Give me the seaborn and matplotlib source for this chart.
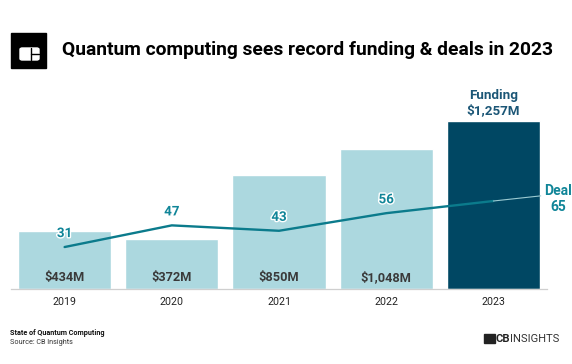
import numpy as np
import pandas as pd
import matplotlib
matplotlib.use('Agg')
import matplotlib.pyplot as plt
import matplotlib.patheffects as pe
from matplotlib.patches import Rectangle, FancyBboxPatch
import seaborn as sns

# Chart data
years = ['2019', '2020', '2021', '2022', '2023']
funding = [434, 372, 850, 1048, 1257]          # $M
funding_labels = ['$434M', '$372M', '$850M', '$1,048M', '$1,257M']
deals = [31, 47, 43, 56, 65]

light_bar = '#acd8df'
dark_bar = '#004763'
line_col = '#0b7b8c'
deal_txt = '#108598'
fund_txt = '#1b5676'
val_txt = '#3a3a3a'

sns.set_theme(style='white')
plt.rcParams['font.family'] = ['Roboto', 'DejaVu Sans']

W, H = 572, 364
fig = plt.figure(figsize=(W / 100, H / 100), dpi=100)

# main axes (pixel layout -> figure fractions)
ax = fig.add_axes([11 / W, (H - 289) / H, 536 / W, 189 / H])
df = pd.DataFrame({'year': years, 'funding': funding})
palette = {y: (dark_bar if y == years[-1] else light_bar) for y in years}
sns.barplot(data=df, x='year', y='funding', hue='year', palette=palette,
            legend=False, width=0.87, saturation=1, ax=ax)
ax.set_xlim(-0.5, 4.5)
ax.set_ylim(0, 1257 * 189 / 168)
ax.set_yticks([])
ax.set_xlabel('')
ax.set_ylabel('')
for s in ['top', 'left', 'right']:
    ax.spines[s].set_visible(False)
ax.spines['bottom'].set_color('#cfcfcf')
ax.spines['bottom'].set_linewidth(0.9)
ax.tick_params(axis='x', length=0, pad=6, labelsize=7.7, labelcolor='#222222')
ax.set_facecolor('none')

# funding value labels inside bars (except last one)
for i in range(4):
    ax.annotate(funding_labels[i], (i, 0), xytext=(0, 3.5), textcoords='offset points',
                ha='center', va='bottom', fontsize=9.2, fontweight='bold', color=val_txt)
ax.annotate('Funding\n' + funding_labels[4], (4, funding[4]), xytext=(0, 3),
            textcoords='offset points', ha='center', va='bottom', fontsize=9.6,
            fontweight='bold', color=fund_txt, linespacing=1.15)

# deals line on twin axis
ax2 = ax.twinx()
ax2.set_ylim(0, 65 * 189 / 88)
sns.lineplot(x=np.arange(len(deals)), y=deals, color=line_col, linewidth=1.7, ax=ax2)
ax2.set_yticks([])
ax2.set_ylabel('')
for s in ['top', 'left', 'right', 'bottom']:
    ax2.spines[s].set_visible(False)

for i in range(4):
    ax2.annotate(str(deals[i]), (i, deals[i]), xytext=(0, 5), textcoords='offset points',
                 ha='center', va='bottom', fontsize=9.6, fontweight='bold', color=deal_txt,
                 path_effects=[pe.withStroke(linewidth=2, foreground='white')])

ax2.annotate('Deal\n' + str(deals[4]), (4, deals[4]), xytext=(544, H - 199),
             textcoords='figure pixels', ha='left', va='center', fontsize=10,
             multialignment='center',
             fontweight='bold', color=deal_txt, linespacing=1.1, annotation_clip=False,
             arrowprops=dict(arrowstyle='-', color='#9ccbd2', lw=0.8,
                             shrinkA=0, shrinkB=0, relpos=(0, 0.62)))

# header logo
fig.patches.append(Rectangle((11 / W, (H - 68) / H), 35 / W, 35 / H,
                             transform=fig.transFigure, color='black'))
fig.patches.append(FancyBboxPatch((20 / W, (H - 60) / H), 19 / W, 12 / H,
                                  boxstyle='round,pad=0,rounding_size=0.004',
                                  transform=fig.transFigure, color='white'))
fig.lines.append(plt.Line2D([31 / W, 31 / W], [(H - 60) / H, (H - 48) / H],
                            transform=fig.transFigure, color='black', lw=1))
fig.lines.append(plt.Line2D([31 / W, 39 / W], [(H - 54) / H, (H - 54) / H],
                            transform=fig.transFigure, color='black', lw=1))

fig.text(62 / W, 1 - 50 / H, 'Quantum computing sees record funding & deals in 2023',
         ha='left', va='center', fontsize=13.9, fontweight='bold', color='black')

# footer
fig.text(10 / W, 1 - 333 / H, 'State of Quantum Computing', ha='left', va='center',
         fontsize=5.2, fontweight='bold', color='#111111')
fig.text(10 / W, 1 - 343 / H, 'Source: CB Insights', ha='left', va='center',
         fontsize=5.2, color='#333333')

fig.patches.append(Rectangle((484 / W, (H - 343) / H), 11 / W, 9 / H,
                             transform=fig.transFigure, color='#222222'))
fig.text(496 / W, 1 - 338.5 / H, 'CB', ha='left', va='center', fontsize=8,
         fontweight='bold', color='#222222')
fig.text(510 / W, 1 - 338.5 / H, 'INSIGHTS', ha='left', va='center', fontsize=8,
         color='#333333')

fig.savefig('out.png', dpi=100)
